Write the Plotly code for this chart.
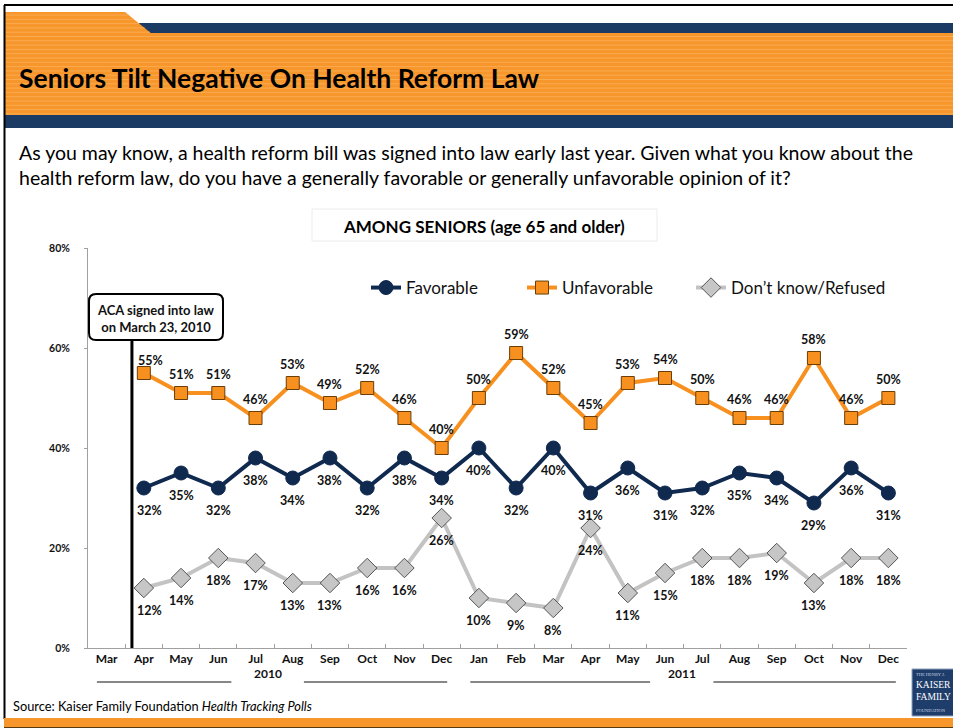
import plotly.graph_objects as go

# ---- data ----
months = ["Mar", "Apr", "May", "Jun", "Jul", "Aug", "Sep", "Oct", "Nov", "Dec",
          "Jan", "Feb", "Mar", "Apr", "May", "Jun", "Jul", "Aug", "Sep", "Oct", "Nov", "Dec"]
years = ["2010"] * 10 + ["2011"] * 12
categories = [f"{m} {y}" for m, y in zip(months, years)]
survey_cats = categories[1:]  # polls run Apr 2010 - Dec 2011

favorable = [32, 35, 32, 38, 34, 38, 32, 38, 34, 40, 32, 40, 31, 36, 31, 32, 35, 34, 29, 36, 31]
unfavorable = [55, 51, 51, 46, 53, 49, 52, 46, 40, 50, 59, 52, 45, 53, 54, 50, 46, 46, 58, 46, 50]
dont_know = [12, 14, 18, 17, 13, 13, 16, 16, 26, 10, 9, 8, 24, 11, 15, 18, 18, 19, 13, 18, 18]

y_ticks = [0, 20, 40, 60, 80]

W, H = 953, 728
def PX(x):
    return x / W
def PY(y):
    return 1 - y / H

NAVY = "#10294f"
ORANGE = "#f7901e"
HDR_ORANGE = "#f7962b"
HDR_STRIPE = "#f9ab52"
HDR_NAVY = "#1b3a64"
GRAY_LINE = "#c3c3c3"
FONT = "Lato"

fig = go.Figure()

fig.add_trace(go.Scatter(
    x=survey_cats, y=favorable, name="Favorable", mode="lines+markers", legend="legend",
    line=dict(color=NAVY, width=4),
    marker=dict(symbol="circle", size=14, color=NAVY, line=dict(color=NAVY, width=1)),
))
fig.add_trace(go.Scatter(
    x=survey_cats, y=unfavorable, name="Unfavorable", mode="lines+markers", legend="legend2",
    line=dict(color=ORANGE, width=4),
    marker=dict(symbol="square", size=13, color=ORANGE, line=dict(color="#6b3e08", width=1)),
))
fig.add_trace(go.Scatter(
    x=survey_cats, y=dont_know, name="Don\u2019t know/Refused", mode="lines+markers", legend="legend3",
    line=dict(color=GRAY_LINE, width=4),
    marker=dict(symbol="diamond", size=15, color="#c6c6c6", line=dict(color="#555555", width=1)),
))

annotations = []
shapes = []

# value labels (first point nudged right, clear of the signing line)
label_font = dict(family=FONT, size=12.5, color="#111111")
for i, (c, v) in enumerate(zip(survey_cats, favorable)):
    xs = 6 if i == 0 else 0
    annotations.append(dict(x=c, y=v, xref="x", yref="y", text=f"<b>{v}%</b>",
                            showarrow=False, yshift=-22, xshift=xs, font=label_font))
for i, (c, v) in enumerate(zip(survey_cats, unfavorable)):
    xs, ys = (7, 13) if i == 0 else (0, 19)
    annotations.append(dict(x=c, y=v, xref="x", yref="y", text=f"<b>{v}%</b>",
                            showarrow=False, yshift=ys, xshift=xs, font=label_font))
for i, (c, v) in enumerate(zip(survey_cats, dont_know)):
    xs = 6 if i == 0 else 0
    annotations.append(dict(x=c, y=v, xref="x", yref="y", text=f"<b>{v}%</b>",
                            showarrow=False, yshift=-22, xshift=xs, font=label_font))

# year labels under the month axis, flanked by rules
year_groups = [("2010", -0.26, 3.35, 5.3, 9.15), ("2011", 9.77, 14.6, 16.3, 21.2)]
for label, a0, a1, b0, b1 in year_groups:
    for x0, x1 in ((a0, a1), (b0, b1)):
        shapes.append(dict(type="line", xref="x", yref="paper", x0=x0, x1=x1,
                           y0=PY(682), y1=PY(682), line=dict(color="#111111", width=1)))
    annotations.append(dict(x=(a1 + b0) / 2, y=PY(683), xref="x", yref="paper",
                            text=f"<b>{label}</b>", showarrow=False, xanchor="center",
                            font=dict(family=FONT, size=12, color="#111111")))

# ACA signing marker line (Mar 23, 2010)
shapes.append(dict(type="line", xref="x", yref="y", x0=0.68, x1=0.68, y0=0, y1=61.6,
                   line=dict(color="#000000", width=3)))

# rounded callout box
def rounded_rect(x0, y0, x1, y1, r):
    return (f"M {PX(x0 + r)} {PY(y0)} L {PX(x1 - r)} {PY(y0)} "
            f"Q {PX(x1)} {PY(y0)} {PX(x1)} {PY(y0 + r)} L {PX(x1)} {PY(y1 - r)} "
            f"Q {PX(x1)} {PY(y1)} {PX(x1 - r)} {PY(y1)} L {PX(x0 + r)} {PY(y1)} "
            f"Q {PX(x0)} {PY(y1)} {PX(x0)} {PY(y1 - r)} L {PX(x0)} {PY(y0 + r)} "
            f"Q {PX(x0)} {PY(y0)} {PX(x0 + r)} {PY(y0)} Z")

shapes.append(dict(type="path", xref="paper", yref="paper", path=rounded_rect(89, 294, 223, 340, 7),
                   fillcolor="white", line=dict(color="#000000", width=2)))
annotations.append(dict(x=PX(156), y=PY(318), xref="paper", yref="paper", xanchor="center",
                        yanchor="middle",
                        text="<b>ACA signed into law<br>on March 23, 2010</b>", showarrow=False,
                        font=dict(family=FONT, size=13, color="#111111")))

# ---- slide decoration ----
# header: white strip, orange tab, navy bands, orange striped title bar
shapes.append(dict(type="rect", xref="paper", yref="paper", x0=PX(5), x1=PX(953), y0=PY(5), y1=PY(33),
                   fillcolor="white", line=dict(width=0), layer="below"))
shapes.append(dict(type="rect", xref="paper", yref="paper", x0=PX(139), x1=PX(953), y0=PY(23), y1=PY(33),
                   fillcolor=HDR_NAVY, line=dict(width=0), layer="below"))
shapes.append(dict(type="path", xref="paper", yref="paper",
                   path=f"M {PX(5)} {PY(12)} L {PX(125)} {PY(12)} L {PX(152)} {PY(34)} L {PX(5)} {PY(34)} Z",
                   fillcolor=HDR_ORANGE, line=dict(width=0), layer="below"))
shapes.append(dict(type="rect", xref="paper", yref="paper", x0=PX(5), x1=PX(953), y0=PY(33), y1=PY(115),
                   fillcolor=HDR_ORANGE, line=dict(width=0), layer="below"))
yy = 15.0
while yy < 114:
    x_end = 953 if yy >= 33 else min(125 + (yy - 12) * 27 / 22, 953)
    shapes.append(dict(type="line", xref="paper", yref="paper", x0=PX(5), x1=PX(x_end),
                       y0=PY(yy), y1=PY(yy), line=dict(color=HDR_STRIPE, width=1), layer="below"))
    yy += 4.3
shapes.append(dict(type="rect", xref="paper", yref="paper", x0=PX(5), x1=PX(953), y0=PY(115), y1=PY(128),
                   fillcolor=HDR_NAVY, line=dict(width=0), layer="below"))

# slide frame
shapes.append(dict(type="line", xref="paper", yref="paper", x0=PX(4), x1=PX(953), y0=PY(5), y1=PY(5),
                   line=dict(color="#000000", width=2)))
shapes.append(dict(type="line", xref="paper", yref="paper", x0=PX(4.5), x1=PX(4.5), y0=PY(5), y1=PY(719),
                   line=dict(color="#000000", width=2)))

# footer band
shapes.append(dict(type="rect", xref="paper", yref="paper", x0=PX(4), x1=PX(953), y0=PY(718), y1=PY(727),
                   fillcolor=HDR_ORANGE, line=dict(width=0)))
shapes.append(dict(type="line", xref="paper", yref="paper", x0=PX(4), x1=PX(953), y0=PY(727.5), y1=PY(727.5),
                   line=dict(color="#5a3a10", width=1)))

# logo block
shapes.append(dict(type="rect", xref="paper", yref="paper", x0=PX(912), x1=PX(960), y0=PY(669), y1=PY(716),
                   fillcolor="#1f3d6b", line=dict(color="#8fa2bd", width=1)))
logo_lines = [("THE HENRY J.", 674, 4.5, "#c8d2e0"), ("KAISER", 685, 9.5, "white"),
              ("FAMILY", 697, 9.5, "white"), ("FOUNDATION", 710, 4.5, "#c8d2e0")]
for txt, ly, fs, col in logo_lines:
    annotations.append(dict(x=PX(914), y=PY(ly), xref="paper", yref="paper", xanchor="left",
                            yanchor="middle", text=txt, showarrow=False,
                            font=dict(family="Liberation Serif", size=fs, color=col)))

# title and question text
annotations.append(dict(x=PX(17), y=PY(78), xref="paper", yref="paper", xanchor="left",
                        yanchor="middle",
                        text="<b>Seniors Tilt Negative On Health Reform Law</b>", showarrow=False,
                        font=dict(family=FONT, size=26.5, color="#000000")))
annotations.append(dict(x=PX(17), y=PY(165), xref="paper", yref="paper", xanchor="left", align="left",
                        yanchor="middle",
                        text=("As you may know, a health reform bill was signed into law early last year. "
                              "Given what you know about the<br>health reform law, do you have a generally "
                              "favorable or generally unfavorable opinion of it?"),
                        showarrow=False, font=dict(family=FONT, size=19.5, color="#000000")))

# chart subtitle box
shapes.append(dict(type="rect", xref="paper", yref="paper", x0=PX(312), x1=PX(657), y0=PY(209), y1=PY(241),
                   fillcolor="white", line=dict(color="#ececec", width=1)))
annotations.append(dict(x=PX(484), y=PY(226), xref="paper", yref="paper", xanchor="center",
                        yanchor="middle",
                        text="<b>AMONG SENIORS (age 65 and older)</b>", showarrow=False,
                        font=dict(family=FONT, size=17, color="#000000")))

# source line
annotations.append(dict(x=PX(11), y=PY(706), xref="paper", yref="paper", xanchor="left",
                        yanchor="middle",
                        text="Source: Kaiser Family Foundation <i>Health Tracking Polls</i>", showarrow=False,
                        font=dict(family=FONT, size=12.8, color="#000000")))

legend_style = dict(orientation="h", xanchor="left", yanchor="middle", y=PY(288),
                    font=dict(family=FONT, size=17, color="#111111"),
                    bgcolor="rgba(0,0,0,0)", itemwidth=30)

fig.update_layout(
    width=W, height=H,
    margin=dict(l=0, r=0, t=0, b=0, autoexpand=False),
    paper_bgcolor="white", plot_bgcolor="white",
    font=dict(family=FONT, color="#111111"),
    showlegend=True,
    legend=dict(x=PX(366), **legend_style),
    legend2=dict(x=PX(522), **legend_style),
    legend3=dict(x=PX(691), **legend_style),
    xaxis=dict(domain=[PX(88), PX(907)], type="category", categoryorder="array",
               categoryarray=categories, range=[-0.5, len(categories) - 0.5], autorange=False,
               tickmode="array", tickvals=categories,
               ticktext=[f"<b>{m}</b>" for m in months], tickson="boundaries",
               ticks="inside", ticklen=4, tickcolor="#a0a0a0", showline=True,
               linecolor="#a0a0a0", linewidth=1, showgrid=False, zeroline=False,
               tickfont=dict(family=FONT, size=12, color="#111111"), fixedrange=True),
    yaxis=dict(domain=[PY(648), PY(248)], range=[0, 80], autorange=False, tickvals=y_ticks,
               ticktext=[f"<b>{v}%</b>" for v in y_ticks], ticks="outside", ticklen=3,
               tickcolor="#a0a0a0", showline=True, linecolor="#a0a0a0", linewidth=1,
               showgrid=False, zeroline=False, ticklabelstandoff=12,
               tickfont=dict(family=FONT, size=10.5, color="#111111"), fixedrange=True),
    shapes=shapes,
    annotations=annotations,
)

fig.write_html("out.html", config={"displayModeBar": False})
